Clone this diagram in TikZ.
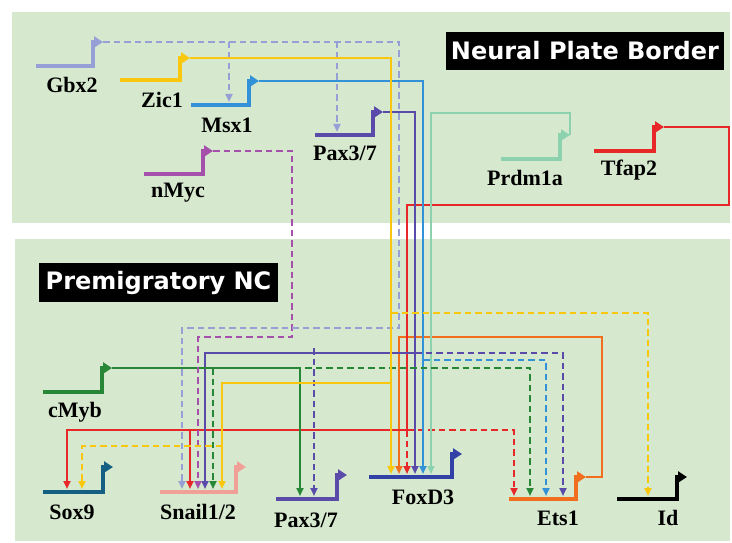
\documentclass[tikz,border=0pt]{standalone}
\usepackage{fontspec}
\setmainfont{Liberation Serif}
\newfontfamily\titlefont{DejaVu Sans}
\usetikzlibrary{arrows.meta}
\definecolor{bgc}{RGB}{214,232,206}
\definecolor{cgbx}{RGB}{150,160,215}
\definecolor{czic}{RGB}{249,200,14}
\definecolor{cmsx}{RGB}{51,145,215}
\definecolor{cpax}{RGB}{90,75,170}
\definecolor{cnmyc}{RGB}{165,80,170}
\definecolor{cprdm}{RGB}{140,210,175}
\definecolor{ctfap}{RGB}{232,40,40}
\definecolor{ccmyb}{RGB}{40,135,55}
\definecolor{csox}{RGB}{20,95,130}
\definecolor{csnail}{RGB}{240,160,150}
\definecolor{cfox}{RGB}{50,65,165}
\definecolor{cets}{RGB}{240,110,30}
\definecolor{cid}{RGB}{0,0,0}
\tikzset{
  genebody/.style={line width=3.8pt, line join=miter, -{Triangle[length=9pt,width=11pt]}},
  link/.style={line width=2.2pt},
  dlink/.style={line width=2.2pt, dash pattern=on 6.5pt off 4pt},
  tip/.style={-{Triangle[length=8pt,width=7pt]}},
  lbl/.style={font=\bfseries\fontsize{22}{26}\selectfont, inner sep=0pt},
  titlebox/.style={fill=black, text=white, inner sep=0pt, font=\titlefont\bfseries\fontsize{24}{28}\selectfont},
}
\newcommand{\drawgene}[6]{%
  % #1 name, #2 x1, #3 x2, #4 y, #5 yup, #6 color
  \draw[genebody,#6] (#2,#4) -| (#3,#5) -- ++(10,0) coordinate (#1o);
  \coordinate (#1body) at (#2,#4);
}
\begin{document}
\begin{tikzpicture}[x=1pt,y=-1pt]
\useasboundingbox (0,0) rectangle (732,543);
% panels
\fill[bgc] (12,12) rectangle (730,223);
\fill[bgc] (15,239) rectangle (730,541);
\node[titlebox, minimum width=278pt, minimum height=38pt] (npb) at (585,51) {Neural Plate Border};
\node[titlebox, minimum width=239pt, minimum height=39pt] (pnc) at (158.5,282.5) {Premigratory NC};

% genes
\drawgene{gbx}{36}{93}{66}{42}{cgbx}
\drawgene{zic}{120}{180}{80}{58}{czic}
\drawgene{msx}{191}{249}{105}{81}{cmsx}
\drawgene{paxT}{315}{373}{135}{112}{cpax}
\drawgene{nmyc}{144}{203}{174}{151}{cnmyc}
\drawgene{prdm}{501}{560}{159}{135}{cprdm}
\drawgene{tfap}{594}{654}{151}{127}{ctfap}
\drawgene{cmyb}{43}{102}{392}{368}{ccmyb}
\drawgene{sox}{43}{103}{492}{467}{csox}
\drawgene{snail}{160}{236}{492}{467}{csnail}
\drawgene{paxB}{276}{337}{499}{475}{cpax}
\drawgene{fox}{369}{452}{477}{454}{cfox}
\drawgene{ets}{509}{576}{499}{477}{cets}
\drawgene{id}{617}{677}{499}{477}{cid}

% labels
\node[lbl] (lgbx) at (72,85) {Gbx2};
\node[lbl] (lzic) at (162,100) {Zic1};
\node[lbl] (lmsx) at (227,125) {Msx1};
\node[lbl] (lpaxT) at (345,153) {Pax3/7};
\node[lbl] (lnmyc) at (178,193) {nMyc};
\node[lbl] (lprdm) at (525,178) {Prdm1a};
\node[lbl] (ltfap) at (629,170) {Tfap2};
\node[lbl] (lcmyb) at (75,412) {cMyb};
\node[lbl] (lsox) at (72,512) {Sox9};
\node[lbl] (lsnail) at (198,512) {Snail1/2};
\node[lbl] (lpaxB) at (306,520) {Pax3/7};
\node[lbl] (lfox) at (423,497) {FoxD3};
\node[lbl] (lets) at (558,518) {Ets1};
\node[lbl] (lid) at (668,518) {Id};

% input points
\coordinate (msxi) at (229,102);
\coordinate (paxTi) at (337,132);
\coordinate (soxA) at (67,489);
\coordinate (soxB) at (82,489);
\coordinate (snA) at (182,489);
\coordinate (snB) at (190,489);
\coordinate (snC) at (198,489);
\coordinate (snD) at (205,489);
\coordinate (snE) at (213,489);
\coordinate (snF) at (222,489);
\coordinate (paxBa) at (300,496);
\coordinate (paxBb) at (314,496);
\coordinate (foxA) at (391,474);
\coordinate (foxB) at (399,474);
\coordinate (foxC) at (407,474);
\coordinate (foxD) at (415,474);
\coordinate (foxE) at (423,474);
\coordinate (foxF) at (431,474);
\coordinate (etsA) at (514,496);
\coordinate (etsB) at (530,496);
\coordinate (etsC) at (546,496);
\coordinate (etsD) at (563,496);
\coordinate (idA) at (648,496);

% corner / junction points
\coordinate (gbxturn) at (399,328);
\coordinate (zicbr) at (391,383);
\coordinate (zicid) at (391,313);
\coordinate (zicsox) at (222,446);
\coordinate (msxets) at (423,360);
\coordinate (paxbr) at (415,353);
\coordinate (nmycturn) at (292,337);
\coordinate (prdmtop) at (570,113);
\coordinate (tfapR) at (729,205);
\coordinate (redjn) at (407,430);
\coordinate (cmybjn) at (300,368);
\coordinate (etsturn) at (602,337);

% Ets1 -> FoxD3
\draw[link,cets,tip] (etso) -| (etsturn) -| (foxB);
% Tfap2
\draw[link,ctfap] (tfapo) -| (tfapR) -| (redjn);
\draw[dlink,ctfap,tip] (redjn) -- (foxC);
\draw[link,ctfap,tip] (redjn) -| (soxA);
\draw[link,ctfap,tip] (redjn -| snB) -- (snB);
\draw[dlink,ctfap,tip] (redjn) -| (etsA);
% Prdm1a
\draw[link,cprdm,tip] (prdmo) -- (prdmtop) -| (foxF);
% Msx1
\draw[link,cmsx,tip] (msxo) -| (foxE);
\draw[dlink,cmsx,tip] (msxets) -| (etsC);
% Pax3/7 top
\draw[link,cpax,tip] (paxTo) -| (foxD);
\draw[link,cpax,tip] (paxbr) -| (snD);
\draw[dlink,cpax,tip] (paxbr) -| (etsD);
\draw[dlink,cpax,tip] ([yshift=5pt]paxbr -| paxBb) -- (paxBb);
% cMyb
\draw[link,ccmyb,tip] (cmybo) -| (paxBa);
\draw[dlink,ccmyb,tip] ([xshift=5pt]cmybjn) -| (etsB);
\draw[dlink,ccmyb,tip] (cmybo -| snE) -- (snE);
% nMyc
\draw[dlink,cnmyc,tip] (nmyco) -| (nmycturn) -| (snC);
% Gbx2
\draw[dlink,cgbx,tip] (gbxo) -| (gbxturn) -| (snA);
\draw[dlink,cgbx,tip] (gbxo -| msxi) -- (msxi);
\draw[dlink,cgbx,tip] (gbxo -| paxTi) -- (paxTi);
% Zic1
\draw[link,czic,tip] (zico) -| (foxA);
\draw[link,czic,tip] (zicbr) -| (snF);
\draw[dlink,czic,tip] (zicid) -| (idA);
\draw[dlink,czic,tip] (zicsox) -| (soxB);
\end{tikzpicture}
\end{document}
